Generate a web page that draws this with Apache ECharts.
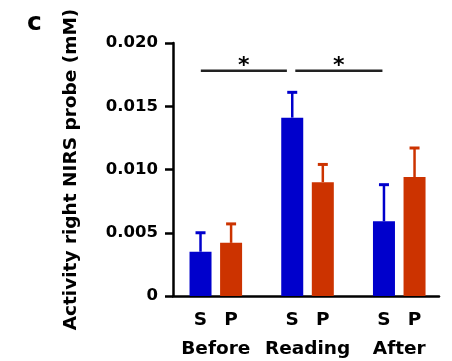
<!DOCTYPE html>
<html>
<head>
<meta charset="utf-8">
<script src="https://cdn.jsdelivr.net/npm/echarts@6/dist/echarts.min.js"></script>
<style>
  html, body { margin: 0; padding: 0; background: #fff; }
  #chart { width: 452px; height: 361px; }
</style>
</head>
<body>
<div id="chart"></div>
<script>
// Conditions and the two measurements per condition
const groups = ['Before', 'Reading', 'After'];
const subLabels = ['S', 'P'];

// Mean activity (mM) and error (SEM) per condition
const sValues = [0.0035, 0.0141, 0.0059];
const sErrors = [0.0015, 0.0020, 0.0029];
const pValues = [0.0042, 0.0090, 0.0094];
const pErrors = [0.0015, 0.0014, 0.0023];

// Y axis ticks
const yTicks = [0, 0.005, 0.010, 0.015, 0.020];

// Significance brackets: [from group, to group, marker]
const brackets = [[0, 1, '*'], [1, 2, '*']];
const bracketLevel = 0.0178;

// Slot layout along the x axis (S and P within a group, groups spaced apart)
const firstSlot = 1.8, pairStep = 2, groupStep = 6, xMax = 17.4;
const slot = (g, s) => firstSlot + g * groupStep + s * pairStep;

const blue = '#0000cc';
const red = '#cc3300';
const font = 'DejaVu Sans';

const sData = sValues.map((v, g) => [slot(g, 0), v]);
const pData = pValues.map((v, g) => [slot(g, 1), v]);
const errData = [];
sValues.forEach((v, g) => errData.push([slot(g, 0), v, v + sErrors[g], 0]));
pValues.forEach((v, g) => errData.push([slot(g, 1), v, v + pErrors[g], 1]));

const subPositions = [];
const subNames = [];
groups.forEach((_, g) => subLabels.forEach((s, i) => {
  subPositions.push(slot(g, i));
  subNames.push(s);
}));
const groupPositions = groups.map((_, g) => (slot(g, 0) + slot(g, 1)) / 2);

function nearestLabel(value, positions, names) {
  let best = 0;
  positions.forEach((p, i) => {
    if (Math.abs(p - value) < Math.abs(positions[best] - value)) best = i;
  });
  return names[best];
}

// bracket ends sit just beside the S bar centres of the compared groups
const bracketData = [
  [slot(brackets[0][0], 0) + 0.02, slot(brackets[0][1], 0) - 0.35, bracketLevel, brackets[0][2]],
  [slot(brackets[1][0], 0) + 0.2, slot(brackets[1][1], 0) - 0.1, bracketLevel, brackets[1][2]]
];

const chart = echarts.init(document.getElementById('chart'), null, { renderer: 'canvas' });

chart.setOption({
  animation: false,
  backgroundColor: '#ffffff',
  grid: { left: 173, right: 13, top: 43, bottom: 65 },
  graphic: [{
    type: 'text', left: 27, top: 11,
    style: { text: 'c', font: 'bold 25px "' + font + '"', fill: '#000' }
  }],
  xAxis: [{
    type: 'value', min: 0, max: xMax,
    splitLine: { show: false },
    axisLine: { show: true, onZero: false, lineStyle: { color: '#000', width: 2.5 } },
    axisTick: { show: false },
    axisLabel: {
      customValues: subPositions,
      margin: 15,
      color: '#000', fontFamily: font, fontWeight: 'bold', fontSize: 18.5,
      formatter: v => nearestLabel(v, subPositions, subNames)
    }
  }, {
    type: 'value', min: 0, max: xMax, position: 'bottom',
    splitLine: { show: false },
    axisLine: { show: false },
    axisTick: { show: false },
    axisLabel: {
      customValues: groupPositions,
      margin: 44,
      color: '#000', fontFamily: font, fontWeight: 'bold', fontSize: 18.5,
      formatter: v => nearestLabel(v, groupPositions, groups)
    }
  }],
  yAxis: {
    type: 'value', min: 0, max: 0.020, interval: 0.005,
    name: 'Activity right NIRS probe (mM)',
    nameLocation: 'middle', nameGap: 92,
    nameTextStyle: { color: '#000', fontFamily: font, fontWeight: 'bold', fontSize: 18.5 },
    splitLine: { show: false },
    axisLine: { show: true, lineStyle: { color: '#000', width: 2.5 } },
    axisTick: { show: true, inside: false, length: 8, lineStyle: { color: '#000', width: 2.5 } },
    axisLabel: {
      margin: 15, color: '#000', fontFamily: font, fontWeight: 'bold', fontSize: 16.5,
      formatter: v => {
        const t = yTicks.find(k => Math.abs(k - v) < 1e-9);
        return t === 0 ? '0' : (t !== undefined ? t.toFixed(3) : '');
      }
    }
  },
  series: [{
    name: 'S', type: 'bar', data: sData, barWidth: 22, barGap: '-100%',
    itemStyle: { color: blue }, z: 2
  }, {
    name: 'P', type: 'bar', data: pData, barWidth: 22, barGap: '-100%',
    itemStyle: { color: red }, z: 2
  }, {
    name: 'error', type: 'custom', data: errData, z: 3,
    renderItem: (params, api) => {
      const x = api.value(0);
      const base = api.coord([x, api.value(1)]);
      const top = api.coord([x, api.value(2)]);
      const color = api.value(3) === 0 ? blue : red;
      return {
        type: 'group',
        children: [{
          type: 'line',
          shape: { x1: base[0], y1: base[1], x2: top[0], y2: top[1] },
          style: { stroke: color, lineWidth: 2.5 }
        }, {
          type: 'line',
          shape: { x1: top[0] - 5, y1: top[1], x2: top[0] + 5, y2: top[1] },
          style: { stroke: color, lineWidth: 3 }
        }]
      };
    }
  }, {
    name: 'significance', type: 'custom', data: bracketData, z: 4,
    renderItem: (params, api) => {
      const a = api.coord([api.value(0), api.value(2)]);
      const b = api.coord([api.value(1), api.value(2)]);
      return {
        type: 'group',
        children: [{
          type: 'line',
          shape: { x1: a[0], y1: a[1], x2: b[0], y2: b[1] },
          style: { stroke: '#222', lineWidth: 2.5 }
        }, {
          type: 'text',
          style: {
            text: api.value(3), x: (a[0] + b[0]) / 2, y: a[1] + 6,
            align: 'center', verticalAlign: 'bottom',
            font: 'bold 22px "' + font + '"', fill: '#000'
          }
        }]
      };
    }
  }]
});
</script>
</body>
</html>
